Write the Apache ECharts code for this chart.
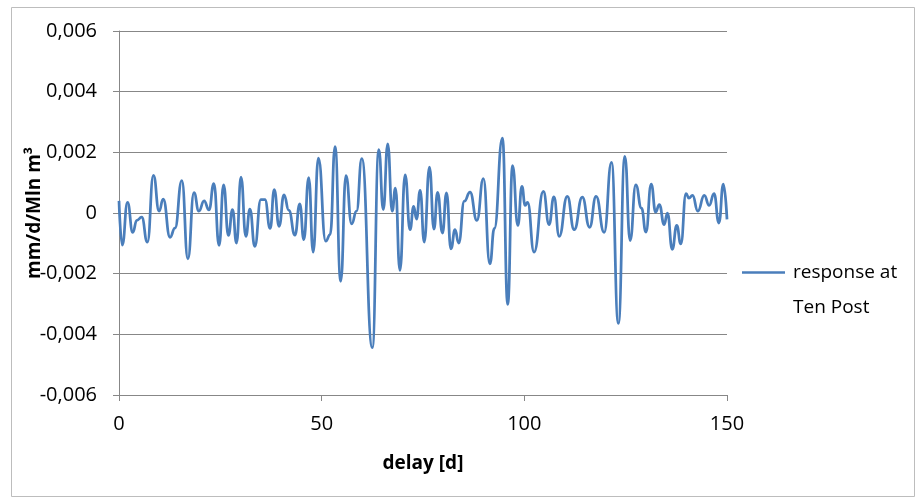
<!DOCTYPE html>
<html>
<head>
<meta charset="utf-8">
<script src="https://cdn.jsdelivr.net/npm/echarts@6/dist/echarts.min.js"></script>
<style>
html,body{margin:0;padding:0;background:#fff;}
#chart{width:916px;height:498px;}
</style>
</head>
<body>
<div id="chart"></div>
<script>
// delay [d] at each turning point of the curve
const delay = [0, 0.8, 2.1, 3.4, 4.4, 5.6, 7.0, 8.5, 9.9, 10.9, 12.6, 13.8, 15.5, 17.0, 18.5, 19.7, 21.0, 22.2, 23.4,
  24.7, 25.8, 27.0, 28.0, 29.0, 30.1, 31.3, 32.3, 33.5, 35.0, 36.0, 37.3, 38.3, 39.5, 40.7, 41.9, 43.4, 44.6, 45.6,
  46.8, 47.9, 49.2, 51.0, 52.1, 53.3, 54.7, 56.0, 57.4, 58.6, 59.9, 62.5, 64.1, 65.2, 66.3, 67.4, 68.2, 69.3, 70.6,
  71.8, 72.7, 73.4, 74.3, 75.3, 76.6, 77.7, 78.6, 79.8, 80.8, 81.9, 82.9, 83.8, 85.2, 86.6, 88.3, 89.9, 91.5, 92.6,
  94.6, 95.9, 97.1, 98.4, 99.4, 100.2, 100.8, 102.4, 104.7, 106.1, 107.3, 108.6, 110.6, 112.3, 114.3, 116.1, 117.7,
  119.7, 121.5, 123.2, 124.8, 126.1, 127.5, 128.9, 130.0, 131.3, 132.4, 133.3, 134.5, 135.3, 136.5, 137.6, 138.6,
  139.9, 140.6, 141.5, 142.8, 144.4, 145.6, 146.8, 148.0, 149.1, 150.0];
// response at Ten Post [mm/d/Mln m3]
const response = [0.0004, -0.00106, 0.00035, -0.00064, -0.00024, -0.00014, -0.00096, 0.00124, 0.00006, 0.00046,
  -0.0008, -0.0005, 0.00107, -0.00151, 0.00067, 0.00006, 0.0004, 0.0001, 0.00097,
  -0.00107, 0.00093, -0.00074, 0.00011, -0.00099, 0.00118, -0.00077, 0.00013, -0.0011, 0.00044, 0.00044, -0.00051,
  0.00077, -0.00044, 0.0006, 0.00009, -0.00073, 0.0003, -0.00088,
  0.00117, -0.00129, 0.00181, -0.00093, -0.00071, 0.00219, -0.00225, 0.00123, -0.00036, 0.00006, 0.00179, -0.00444,
  0.00209, 0.00011, 0.00228, 0.00006, 0.00082, -0.00189, 0.00126,
  -0.00055, 0.00022, -0.0002, 0.00075, -0.00096, 0.00151, -0.00053, 0.00068, -0.00066, 0.00066, -0.00118, -0.00055,
  -0.00099, 0.00039, 0.00069, -0.00024, 0.00113, -0.00168, -0.00051,
  0.00247, -0.00301, 0.00156, -0.00041, 0.00088, 0.00025, 0.00035, -0.00129, 0.00071, -0.00038, 0.00053, -0.00077,
  0.00055, -0.00055, 0.00052, -0.00047, 0.00055,
  -0.00064, 0.00167, -0.00364, 0.00187, -0.00091, 0.00093, 0.00016, -0.00063, 0.00095, 0.00003, 0.00028, -0.00038,
  0.0, -0.0012, -0.00041, -0.00102,
  0.00064, 0.00049, 0.00058, 0.00006, 0.00058, 0.00025, 0.00064, -0.00033, 0.00095, -0.00021];
const seriesName = 'response at Ten Post';
const xTitle = 'delay [d]';
const yTitle = 'mm/d/Mln m³';

const chart = echarts.init(document.getElementById('chart'), null, {renderer: 'canvas'});
const FONT = 'Open Sans';
const gridColor = '#878787';
const lineColor = '#4a7ebb';
chart.setOption({
  animation: false,
  backgroundColor: '#ffffff',
  textStyle: {fontFamily: FONT},
  graphic: [{
    type: 'rect', left: 9, top: 5, silent: true,
    shape: {width: 903, height: 489},
    style: {fill: 'none', stroke: '#bdbdbd', lineWidth: 1}
  }],
  grid: {left: 119, right: 189, top: 31, bottom: 103, containLabel: false},
  xAxis: {
    type: 'value', min: 0, max: 150, interval: 50,
    name: xTitle, nameLocation: 'middle', nameGap: 59, nameMoveOverlap: false,
    nameTextStyle: {fontFamily: FONT, fontSize: 19, fontWeight: 'bold', color: '#000'},
    axisLine: {show: true, onZero: false, lineStyle: {color: gridColor, width: 1}},
    axisTick: {show: true, length: 6, lineStyle: {color: gridColor}},
    axisLabel: {margin: 19, fontFamily: FONT, fontSize: 20, color: '#000'},
    splitLine: {show: false}
  },
  yAxis: {
    type: 'value', min: -0.006, max: 0.006, interval: 0.002,
    name: yTitle, nameLocation: 'middle', nameGap: 75, nameMoveOverlap: false,
    nameTextStyle: {fontFamily: FONT, fontSize: 19, fontWeight: 'bold', color: '#000'},
    axisLine: {show: true, lineStyle: {color: gridColor, width: 1}},
    axisTick: {show: true, length: 6, lineStyle: {color: gridColor}},
    axisLabel: {
      margin: 22, fontFamily: FONT, fontSize: 20, color: '#000',
      formatter: v => Math.abs(v) < 1e-12 ? '0' : v.toFixed(3).replace('.', ',')
    },
    splitLine: {show: true, lineStyle: {color: gridColor, width: 1}}
  },
  legend: {
    show: true, left: 742, top: 220, orient: 'vertical', padding: 0,
    icon: 'rect', itemWidth: 43, itemHeight: 2.5, itemGap: 0,
    itemStyle: {color: lineColor, borderWidth: 0},
    formatter: () => '\nresponse at\nTen Post',
    textStyle: {fontFamily: FONT, fontSize: 19, color: '#000', lineHeight: 35, padding: [0, 0, 0, 3]},
    data: [seriesName]
  },
  series: [{
    name: seriesName, type: 'line',
    data: delay.map((d, i) => [d, response[i]]),
    symbol: 'none', smooth: 0.5, smoothMonotone: 'x',
    lineStyle: {color: lineColor, width: 2.75},
    itemStyle: {color: lineColor}
  }]
});
</script>
</body>
</html>
